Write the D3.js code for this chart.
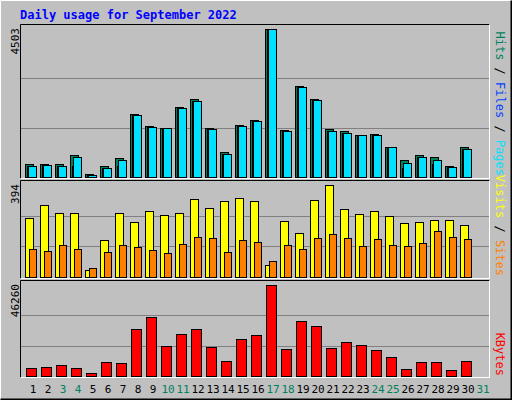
<!DOCTYPE html>
<html><head><meta charset="utf-8">
<script src="https://cdn.jsdelivr.net/npm/d3@7"></script>
<style>body{margin:0;background:#fff}text{font-family:"DejaVu Sans Mono",monospace}</style>
</head><body><svg id="c"></svg>
<script>
const days = d3.range(1, 32);
const weekend = [3, 4, 10, 11, 17, 18, 24, 25, 31];
const hits = [408,408,408,683,82,346,571,1905,1538,1487,2119,2364,1487,774,1569,1732,4503,1416,2761,2364,1457,1386,1263,1304,907,509,683,601,326,927,0];
const files = [346,377,346,326,61,285,346,1875,1508,1477,2088,2302,1447,713,1538,1691,4503,1386,2730,2333,1386,1324,1263,1263,907,265,601,408,295,866,0];
const pages = [346,377,346,601,61,285,530,1875,1508,1477,2088,2302,1447,713,1538,1691,4503,1386,2730,2333,1386,1324,1263,1263,907,438,621,530,295,866,0];
const visits = [253,309,275,275,31,159,275,236,283,266,275,334,296,326,339,326,51,240,189,330,394,292,270,283,262,232,236,245,245,223,0];
const sites = [121,112,138,121,40,108,138,129,117,104,142,172,168,108,159,151,70,138,121,168,185,168,134,164,138,134,147,198,172,164,0];
const kbytes = [4221,4727,5740,4221,1688,7260,6753,23973,30051,15364,21442,23973,14857,7766,18909,20935,46260,13844,28025,25493,14350,17389,15870,13337,9792,3714,7260,7260,3208,7766,0];

const W = 512, H = 400;
const svg = d3.select("#c").attr("width", W).attr("height", H);
svg.append("rect").attr("width", W).attr("height", H).attr("fill", "#c0c0c0");
svg.append("path").attr("d", `M0.5,${H-0.5}V0.5H${W-0.5}`).attr("stroke", "#fff").attr("fill", "none");
svg.append("path").attr("d", `M${W-0.5},0.5V${H-0.5}H0.5`).attr("stroke", "#000").attr("stroke-width", 2).attr("fill", "none");

svg.append("text").attr("x", 20).attr("y", 19).attr("fill", "#0000ff")
   .attr("font-size", 12).attr("font-weight", "bold").text("Daily usage for September 2022");

const x = d3.scaleLinear().domain([1, 32]).range([25, 490]);
const left = 20, right = 490;

const panels = [
  { top: 25, bottom: 177, max: 4503 },
  { top: 181, bottom: 277, max: 394 },
  { top: 281, bottom: 376, max: 46260 }
];
panels.forEach(p => {
  p.y = d3.scaleLinear().domain([0, p.max]).range([p.bottom, p.top + 4]);
  svg.append("rect").attr("x", left).attr("y", p.top - 1).attr("width", right - left).attr("height", p.bottom - p.top + 2)
     .attr("fill", "#c0c0c0");
  [1/3, 2/3].forEach(f => {
    const gy = Math.round(p.y(p.max * f)) + 0.5;
    svg.append("line").attr("x1", left).attr("x2", right).attr("y1", gy).attr("y2", gy).attr("stroke", "#808080");
  });
  svg.append("path").attr("d", `M${left+0.5},${p.bottom+1.5}V${p.top-0.5}H${right-0.5}`).attr("stroke", "#000").attr("fill", "none");
  svg.append("path").attr("d", `M${right-0.5},${p.top-0.5}V${p.bottom+1.5}H${left+0.5}`).attr("stroke", "#fff").attr("fill", "none");
  svg.append("text").attr("transform", `translate(19,${p.top + 3}) rotate(-90)`).attr("text-anchor", "end")
     .attr("font-size", 11).attr("fill", "#000").text(p.max);
});

function bars(data, panel, dx, w, color) {
  svg.append("g").selectAll("rect").data(data).join("rect")
    .filter(d => d > 0)
    .attr("x", (d, i) => x(i + 1) + dx + 0.5)
    .attr("y", d => Math.round(panel.y(d)) + 0.5)
    .attr("width", w)
    .attr("height", d => panel.bottom - Math.round(panel.y(d)))
    .attr("fill", color).attr("stroke", "#000");
}
bars(hits, panels[0], 0, 8, "#00805c");
bars(files, panels[0], 2, 8, "#0040ff");
bars(pages, panels[0], 3, 8, "#00e0ff");
bars(visits, panels[1], 0, 8, "#ffff00");
bars(sites, panels[1], 4, 7, "#ff8000");
bars(kbytes, panels[2], 1, 10, "#ff0000");

svg.append("g").selectAll("text").data(days).join("text")
  .attr("x", d => x(d) + 8).attr("y", 393).attr("text-anchor", "middle").attr("font-size", 11)
  .attr("fill", d => weekend.includes(d) ? "#00805c" : "#000").text(d => d);

// vertical labels on the right, reading top to bottom, ending at the panel bottom
function sideLabel(y, parts) {
  const t = svg.append("text").attr("transform", `translate(496,${y}) rotate(90)`).attr("font-size", 12).attr("text-anchor", "end");
  parts.forEach(([s, c]) => t.append("tspan").attr("fill", c).text(s));
}
sideLabel(176, [["Hits", "#00805c"], [" / ", "#000"], ["Files", "#0040ff"], [" / ", "#000"], ["Pages", "#00e0ff"]]);
sideLabel(276, [["Visits", "#ffff00"], [" / ", "#000"], ["Sites", "#ff8000"]]);
sideLabel(376, [["KBytes", "#ff0000"]]);
</script></body></html>
